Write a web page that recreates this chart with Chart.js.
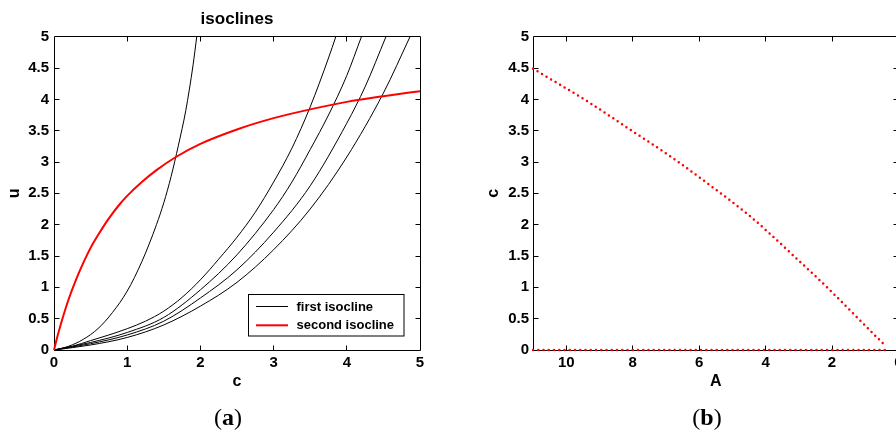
<!DOCTYPE html>
<html><head><meta charset="utf-8">
<script src="https://cdn.jsdelivr.net/npm/chart.js@4"></script>
<style>
html,body{margin:0;padding:0;width:896px;height:432px;overflow:hidden;background:#fff;}
#wrapA{position:absolute;left:0;top:0;width:450px;height:432px;}
#wrapB{position:absolute;left:450px;top:0;width:470px;height:432px;}
.cap{position:absolute;top:403px;font-family:"Liberation Serif","Times New Roman",serif;font-size:24px;color:#000;width:80px;text-align:center;line-height:28px;}
</style></head><body>
<div id="wrapA"><canvas id="ca" width="450" height="432"></canvas></div>
<div id="wrapB"><canvas id="cb" width="470" height="432"></canvas></div>
<div class="cap" style="left:188px">(<b>a</b>)</div>
<div class="cap" style="left:667px">(<b>b</b>)</div>
<script>
// ---- panel (a): first isocline family (c, u) ----
const sC  = [0,0.2,0.4,0.6,0.8,1.0,1.2,1.4,1.5,1.6,1.7,1.8,1.9,1.95];
const sU  = [0,0.06,0.17,0.34,0.60,0.94,1.41,2.00,2.35,2.77,3.27,3.82,4.55,5.0];
const b1C = [0,0.25,0.5,0.75,1,1.25,1.5,1.75,2,2.25,2.5,2.75,3,3.25,3.5,3.75,3.85];
const b1U = [0,0.06,0.15,0.24,0.34,0.46,0.62,0.84,1.12,1.45,1.80,2.20,2.68,3.22,3.88,4.66,5.0];
const b2C = [0,0.5,1,1.5,2,2.5,3,3.25,3.5,3.75,4,4.2];
const b2U = [0,0.12,0.28,0.52,0.96,1.52,2.24,2.68,3.2,3.75,4.38,5.0];
const b3C = [0,0.5,1,1.5,2,2.5,3,3.5,4,4.25,4.535];
const b3U = [0,0.10,0.24,0.46,0.83,1.28,1.88,2.62,3.62,4.2,5.0];
const b4C = [0,0.5,1,1.5,2,2.5,3,3.5,4,4.5,4.864];
const b4U = [0,0.08,0.20,0.40,0.70,1.08,1.60,2.25,3.08,4.10,5.0];
// second isocline
const rC  = [0,0.05,0.1,0.2,0.3,0.4,0.5,0.6,0.75,0.9,1.0,1.2,1.4,1.665,2.0,2.5,3.0,3.5,4.0,4.5,5.0];
const rU  = [0,0.23,0.44,0.81,1.12,1.39,1.63,1.83,2.10,2.33,2.46,2.68,2.87,3.08,3.29,3.52,3.70,3.84,3.96,4.05,4.13];
// ---- panel (b): c versus A ----
const bifA  = [11,9.4,8.0,6.7,5.6,5.0,4.5,3.9,3.25,2.15,1.36,0.4];
const bifC  = [4.49,3.98,3.49,3.03,2.60,2.36,2.15,1.87,1.55,1.00,0.58,0.07];
const zeroA = [11,0.4];
const zeroC = [0,0];
// text
const labelsA = {title:'isoclines', x:'c', y:'u', legend1:'first isocline', legend2:'second isocline'};
const labelsB = {x:'A', y:'c'};

Chart.defaults.color = '#000';
const FAM = '"Liberation Sans", Arial, Helvetica, sans-serif';
const tickFont = {family:FAM, size:15, weight:'bold'};
const axTitleFont = {family:FAM, size:16, weight:'bold'};
const fmt = v => String(+(+v).toFixed(2));
const xy = (xs, ys) => xs.map((x,i)=>({x:x, y:ys[i]}));
const half = v => Math.floor(v) + 0.5;

const framePlugin = {
  id:'frame',
  beforeDatasetsDraw(chart){
    const {ctx, chartArea:a, scales:{x, y}} = chart;
    const L = half(a.left), R = half(a.right), T = half(a.top), B = half(a.bottom);
    ctx.save();
    ctx.strokeStyle = '#000'; ctx.lineWidth = 1;
    ctx.beginPath();
    ctx.rect(L, T, R-L, B-T);
    x.ticks.forEach(t=>{
      const p = half(x.getPixelForValue(t.value));
      if (p <= L+1 || p >= R-1) return;
      ctx.moveTo(p, B); ctx.lineTo(p, B-5);
      ctx.moveTo(p, T); ctx.lineTo(p, T+5);
    });
    y.ticks.forEach(t=>{
      const p = half(y.getPixelForValue(t.value));
      if (p <= T+1 || p >= B-1) return;
      ctx.moveTo(L, p); ctx.lineTo(L+5, p);
      ctx.moveTo(R, p); ctx.lineTo(R-5, p);
    });
    ctx.stroke();
    ctx.restore();
  }
};

const legendPlugin = {
  id:'inlegend',
  afterDatasetsDraw(chart){
    const ctx = chart.ctx;
    const items = chart.data.datasets.filter(d => d.label);
    const x0 = 248.5, y0 = 294.5, w = 155.5, h = 41.5;
    ctx.save();
    ctx.fillStyle = '#fff'; ctx.fillRect(x0, y0, w, h);
    ctx.strokeStyle = '#000'; ctx.lineWidth = 1; ctx.strokeRect(x0, y0, w, h);
    ctx.font = 'bold 13px ' + FAM; ctx.textBaseline = 'middle'; ctx.textAlign = 'left';
    items.forEach((d,i)=>{
      const yy = 306.5 + i*18.8;
      ctx.strokeStyle = d.borderColor; ctx.lineWidth = d.borderWidth;
      ctx.beginPath(); ctx.moveTo(256, yy); ctx.lineTo(288, yy); ctx.stroke();
      ctx.fillStyle = '#000'; ctx.fillText(d.label, 296.5, yy + 0.5);
    });
    ctx.restore();
  }
};

const blackDs = (xs, ys, label) => ({label:label, data:xy(xs, ys), borderColor:'#000', borderWidth:1,
  pointRadius:0, fill:false, cubicInterpolationMode:'monotone', order:1, clip:2});

new Chart(document.getElementById('ca'), {
  type:'line',
  data:{datasets:[
    blackDs(sC, sU, labelsA.legend1),
    blackDs(b1C, b1U, ''),
    blackDs(b2C, b2U, ''),
    blackDs(b3C, b3U, ''),
    blackDs(b4C, b4U, ''),
    {label:labelsA.legend2, data:xy(rC, rU), borderColor:'#ff0000', borderWidth:2, pointRadius:0,
     fill:false, cubicInterpolationMode:'monotone', order:0, clip:2}
  ]},
  options:{
    responsive:false, animation:false, devicePixelRatio:1,
    layout:{padding:{left:0, right:30, top:0, bottom:0}},
    plugins:{
      legend:{display:false}, tooltip:{enabled:false},
      title:{display:true, text:labelsA.title, fullSize:false, font:{family:FAM, size:17, weight:'bold'},
             color:'#000', padding:{top:9.6, bottom:6.7}}
    },
    scales:{
      x:{type:'linear', min:0, max:5,
         ticks:{stepSize:1, font:tickFont, padding:4, maxRotation:0, callback:fmt, includeBounds:false},
         grid:{display:false, drawTicks:false}, border:{display:false},
         title:{display:true, text:labelsA.x, font:axTitleFont, padding:{top:0, bottom:41}},
         afterFit:s=>{s.height = 82;}},
      y:{type:'linear', min:0, max:5,
         ticks:{stepSize:0.5, font:tickFont, padding:5, callback:fmt, includeBounds:false},
         grid:{display:false, drawTicks:false}, border:{display:false},
         title:{display:true, text:labelsA.y, font:axTitleFont, padding:{top:5, bottom:0}},
         afterFit:s=>{s.width = 54;}}
    }
  },
  plugins:[framePlugin, legendPlugin]
});

const redDotted = (xs, ys) => ({data:xy(xs, ys), borderColor:'#ff0000', borderWidth:2.5,
  borderDash:[0,5.25], borderCapStyle:'round', pointRadius:0, fill:false,
  cubicInterpolationMode:'monotone', clip:4});

new Chart(document.getElementById('cb'), {
  type:'line',
  data:{datasets:[ redDotted(bifA, bifC), redDotted(zeroA, zeroC) ]},
  options:{
    responsive:false, animation:false, devicePixelRatio:1,
    layout:{padding:{left:0, right:21.5, top:36.7, bottom:0}},
    plugins:{legend:{display:false}, tooltip:{enabled:false}},
    scales:{
      x:{type:'linear', min:0, max:11, reverse:true,
         ticks:{stepSize:2, font:tickFont, padding:4, maxRotation:0, callback:fmt, includeBounds:false},
         grid:{display:false, drawTicks:false}, border:{display:false},
         title:{display:true, text:labelsB.x, font:axTitleFont, padding:{top:0, bottom:41}},
         afterFit:s=>{s.height = 82;}},
      y:{type:'linear', min:0, max:5,
         ticks:{stepSize:0.5, font:tickFont, padding:4, callback:fmt, includeBounds:false},
         grid:{display:false, drawTicks:false}, border:{display:false},
         title:{display:true, text:labelsB.y, font:axTitleFont, padding:{top:33.6, bottom:0}},
         afterFit:s=>{s.width = 83;}}
    }
  },
  plugins:[framePlugin]
});
</script>
</body></html>
